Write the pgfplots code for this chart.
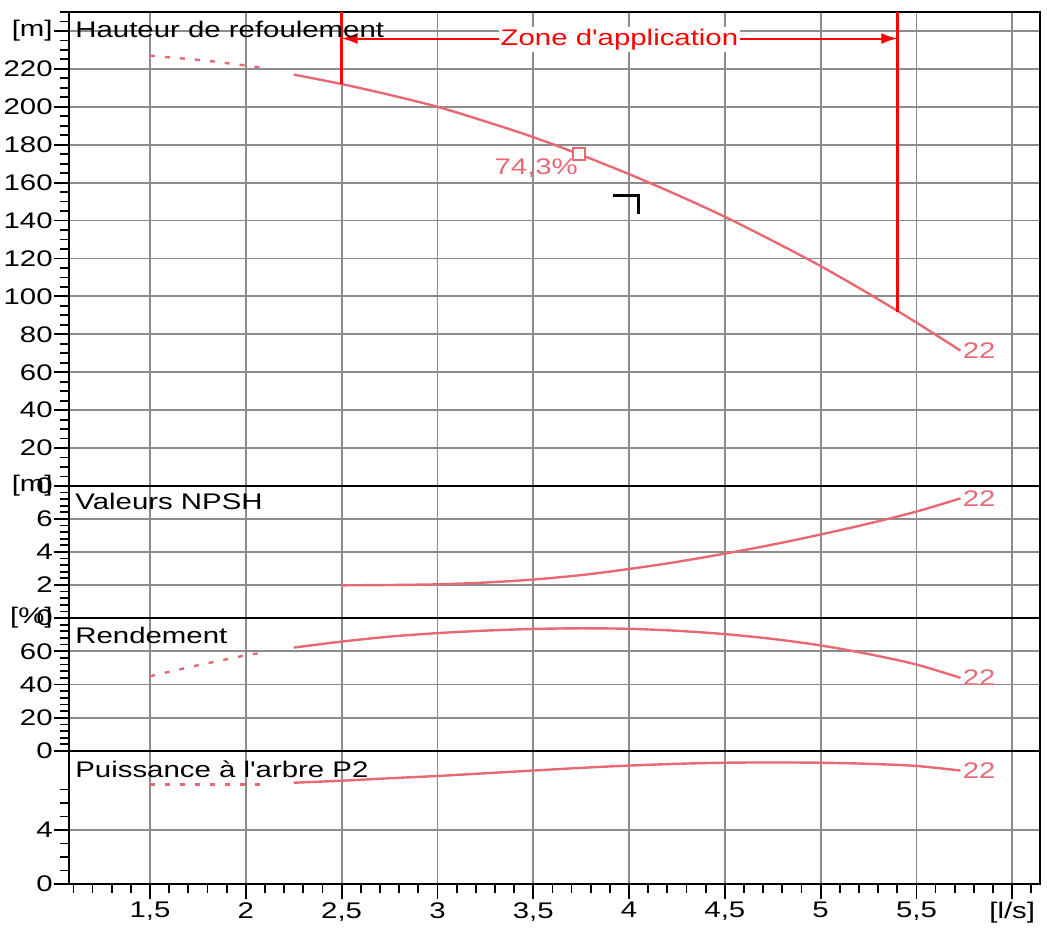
\documentclass[border=0pt]{standalone}
\usepackage{fontspec}
\setmainfont{Liberation Sans}[FakeStretch=1.3, Ligatures=TeXOff]
\usepackage{pgfplots}
\pgfplotsset{compat=1.18}
\usetikzlibrary{arrows.meta}
\definecolor{curve}{RGB}{230,105,115}
\definecolor{gridc}{RGB}{140,140,140}
\pgfplotsset{
  pump/.style={
    scale only axis, width=485.5pt,
    xmin=1.077, xmax=6.145,
    tick pos=left, tick align=outside,
    major tick length=7.5pt, minor tick length=4.5pt,
    xtick={1.5,2,...,6},
    xmajorgrids, ymajorgrids,
    major grid style={gridc, line width=0.9pt},
    axis line style={line width=1.2pt},
    tick style={black, line width=0.9pt},
    yticklabel style={inner xsep=0.5pt},
    xticklabel style={inner ysep=1.5pt},
    anchor=south west,
  },
  upper/.style={xticklabels={}, xtick style={draw=none}},
  crv/.style={curve, line width=1.2pt},
  dsh/.style={curve, line width=1.2pt, dash pattern=on 2.5pt off 5pt},
}
\tikzset{ttl/.style={anchor=north west, inner sep=0pt, xshift=3pt, yshift=-4.5pt}}
\begin{document}
\fontsize{11.3}{13}\selectfont
\begin{tikzpicture}
\useasboundingbox (0,0) rectangle (524.5pt,463.5pt);

% Panel 1: Hauteur
\begin{axis}[pump, upper, at={(34.5pt,220.5pt)}, height=237pt,
  ymin=0, ymax=250, ytick={0,20,...,240},
  yticklabels={0,20,40,60,80,100,120,140,160,180,200,220,{[m]}},
  minor ytick={0,5,...,250}]
\addplot[dsh] coordinates {(1.5,227)(1.8,224.3)(2.09,220.6)};
\addplot[crv, smooth] coordinates {(2.25,217)(2.5,212)(2.75,206.3)(3,200)(3.25,192.3)(3.5,184)(3.75,174.6)(4,164.5)(4.25,153.6)(4.5,142)(4.75,129.3)(5,116)(5.25,101.5)(5.5,86.2)(5.73,71.4)};
\addplot[red, line width=1.4pt] coordinates {(2.5,250)(2.5,212)};
\addplot[red, line width=1.4pt] coordinates {(5.4,250)(5.4,92)};
\addplot[red, line width=1pt, {Latex[length=8pt,width=5.5pt]}-{Latex[length=8pt,width=5.5pt]}] coordinates {(2.5,236)(5.4,236)};
\node[text=red, fill=white, inner sep=1pt] at (axis cs:3.95,235.5) {Zone d'application};
\addplot[curve, only marks, mark=square*, mark size=3pt, mark options={fill=white, line width=0.8pt}] coordinates {(3.74,175)};
\node[text=curve, anchor=north east, inner sep=0pt] at (axis cs:3.735,173) {74,3\%};
\addplot[black, line width=1.5pt] coordinates {(3.916,153.2)(4.05,153.2)(4.05,143.2)};
\node[text=curve, anchor=west, inner sep=1pt] at (axis cs:5.73,71.4) {22};
\node[ttl] at (rel axis cs:0,1) {Hauteur de refoulement};
\end{axis}

% Panel 2: NPSH
\begin{axis}[pump, upper, at={(34.5pt,154.5pt)}, height=66pt,
  ymin=0, ymax=8, ytick={0,2,4,6,8},
  yticklabels={0,2,4,6,{[m]}},
  minor ytick={0,0.4,...,8}]
\addplot[crv, smooth] coordinates {(2.5,1.98)(2.75,2.0)(3,2.04)(3.25,2.15)(3.5,2.33)(3.75,2.6)(4,2.97)(4.25,3.4)(4.5,3.9)(4.75,4.45)(5,5.06)(5.25,5.72)(5.5,6.45)(5.73,7.25)};
\node[text=curve, anchor=west, inner sep=1pt] at (axis cs:5.73,7.25) {22};
\node[ttl, yshift=1pt] at (rel axis cs:0,1) {Valeurs NPSH};
\end{axis}

% Panel 3: Rendement
\begin{axis}[pump, upper, at={(34.5pt,88pt)}, height=66.5pt,
  ymin=0, ymax=80, ytick={0,20,40,60,80},
  yticklabels={0,20,40,60,{[\%]}},
  minor ytick={0,4,...,80}]
\addplot[dsh] coordinates {(1.5,45)(1.75,51.6)(2,57.6)(2.09,59.2)};
\addplot[crv, smooth] coordinates {(2.25,62.2)(2.5,65.8)(2.75,68.8)(3,70.9)(3.25,72.4)(3.5,73.4)(3.75,73.8)(4,73.5)(4.25,72.3)(4.5,70.3)(4.75,67.4)(5,63.5)(5.25,58.3)(5.5,52)(5.73,44)};
\node[text=curve, anchor=west, inner sep=1pt] at (axis cs:5.73,44) {22};
\node[ttl] at (rel axis cs:0,1) {Rendement};
\end{axis}

% Panel 4: Puissance
\begin{axis}[pump, at={(34.5pt,21.5pt)}, height=66.5pt,
  ymin=0, ymax=9.85, ytick={0,4}, yticklabels={0,4},
  minor ytick={1,2,3,5,6,7},
  minor xtick={1.1,1.2,...,6.1},
  xticklabels={{1,5},2,{2,5},3,{3,5},4,{4,5},5,{5,5},{[l/s]}}]
\addplot[dsh] coordinates {(1.5,7.38)(2.09,7.38)};
\addplot[crv, smooth] coordinates {(2.25,7.5)(2.5,7.65)(2.75,7.83)(3,8.0)(3.25,8.2)(3.5,8.4)(3.75,8.6)(4,8.77)(4.25,8.9)(4.5,8.98)(4.75,9.0)(5,8.98)(5.25,8.9)(5.5,8.74)(5.73,8.4)};
\node[text=curve, anchor=west, inner sep=1pt] at (axis cs:5.73,8.4) {22};
\node[ttl] at (rel axis cs:0,1) {Puissance à l'arbre P2};
\end{axis}
\end{tikzpicture}
\end{document}
